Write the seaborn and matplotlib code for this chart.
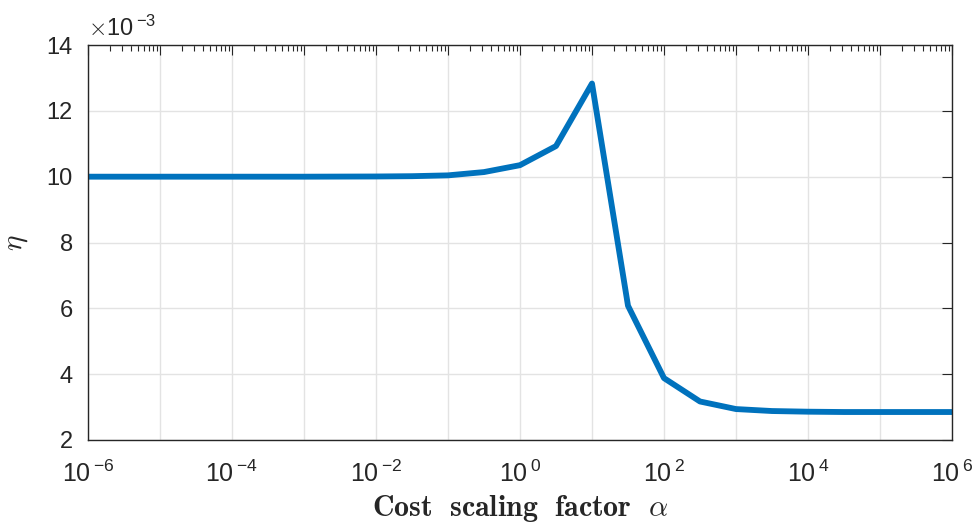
import numpy as np
import pandas as pd
import matplotlib
matplotlib.use("Agg")
import matplotlib.pyplot as plt
import matplotlib.ticker as mticker
import seaborn as sns

# Data
log_alpha = [-6, -5.5, -5, -4.5, -4, -3.5, -3, -2.5, -2, -1.5, -1, -0.5, 0,
             0.5, 1, 1.5, 2, 2.5, 3, 3.5, 4, 4.5, 5, 5.5, 6]
eta_e3 = [10.0, 10.0, 10.0, 10.0, 10.0, 10.0, 10.0, 10.003, 10.006, 10.015, 10.04,
          10.14, 10.35, 10.93, 12.83, 6.08, 3.88, 3.17, 2.94, 2.88, 2.86,
          2.85, 2.85, 2.85, 2.85]
alpha = [10.0 ** v for v in log_alpha]
eta = [v * 1e-3 for v in eta_e3]
yticks = [2, 4, 6, 8, 10, 12, 14]

df = pd.DataFrame({"alpha": alpha, "eta": eta})

sns.set_style("white")
plt.rcParams["font.family"] = ["Liberation Sans", "DejaVu Sans"]
plt.rcParams["mathtext.fontset"] = "cm"

fig = plt.figure(figsize=(9.79, 5.26), dpi=100)
ax = fig.add_axes([0.0899, 0.1635, 0.9724 - 0.0899, 0.9144 - 0.1635])

sns.lineplot(data=df, x="alpha", y="eta", ax=ax, color="#0072BD", linewidth=4.2)

ax.set_xscale("log")
ax.set_xlim(1e-6, 1e6)
ax.set_ylim(2e-3, 14e-3)

ax.xaxis.set_major_locator(mticker.LogLocator(base=10, numticks=20))
ax.xaxis.set_minor_locator(mticker.LogLocator(base=10, subs=np.arange(2, 10), numticks=20))
ax.xaxis.set_minor_formatter(mticker.NullFormatter())

def xfmt(v, pos):
    e = int(round(np.log10(v)))
    if e % 2 == 0:
        return r"$\mathregular{10\,^{%d}}$" % e
    return ""
ax.xaxis.set_major_formatter(mticker.FuncFormatter(xfmt))

ax.set_yticks([t * 1e-3 for t in yticks])
ax.set_yticklabels([str(t) for t in yticks])

ax.grid(True, which="major", color="#e3e3e3", linewidth=1.0)
ax.set_axisbelow(True)

for s in ax.spines.values():
    s.set_color("#262626")
    s.set_linewidth(1.0)
    s.set_visible(True)

ax.tick_params(axis="both", which="both", direction="in", top=True, right=True,
               colors="#262626")
ax.tick_params(axis="x", which="major", length=7, width=0.8, pad=15, labelsize=18)
ax.tick_params(axis="x", which="minor", length=4, width=0.8)
ax.tick_params(axis="y", which="major", length=7, width=0.8, pad=11, labelsize=17)

ax.text(0.0, 1.01, r"$\times\mathregular{10\,^{-3}}$", transform=ax.transAxes,
        fontsize=17, color="#262626", ha="left", va="bottom")

ax.set_xlabel(r"$\mathbf{Cost\ \ scaling\ \ factor}\ \ \alpha$", fontsize=21.5, labelpad=4,
              color="#262626")
ax.set_ylabel(r"$\eta$", fontsize=21, labelpad=12, color="#262626")

fig.savefig("out.png", dpi=100)
